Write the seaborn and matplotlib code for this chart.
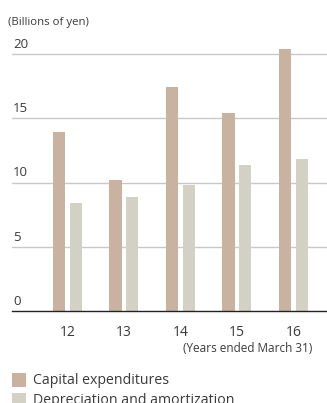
import matplotlib
matplotlib.use("Agg")
import matplotlib.pyplot as plt
import matplotlib.transforms as mtransforms
from matplotlib.patches import Rectangle
import pandas as pd
import seaborn as sns

years = ["12", "13", "14", "15", "16"]
capex = [13.9, 10.2, 17.4, 15.4, 20.4]
depreciation = [8.4, 8.9, 9.8, 11.4, 11.8]
series_names = ["Capital expenditures", "Depreciation and amortization"]
y_ticks = [0, 5, 10, 15, 20]

colors = ["#C9B3A0", "#D3D1C3"]
text_color = "#3a3a3a"

df = pd.DataFrame({
    "year": years * 2,
    "value": capex + depreciation,
    "series": [series_names[0]] * len(years) + [series_names[1]] * len(years),
})

sns.set_theme(style="white")
plt.rcParams["font.family"] = ["Open Sans", "DejaVu Sans"]

W, H = 327, 403
fig = plt.figure(figsize=(W / 100, H / 100), dpi=100)
ax = fig.add_axes([12 / W, (H - 311) / H, (W - 12) / W, 270 / H])

sns.barplot(data=df, x="year", y="value", hue="series", order=years,
            hue_order=series_names, palette=colors, width=0.6, gap=0.29,
            saturation=1, legend=False, ax=ax, edgecolor="none", linewidth=0)

ax.set_ylim(0, 270 / 12.85)
ax.set_xlim(-0.982, 4.593)

for v in y_ticks[1:]:
    ax.axhline(v, color="#c8c8c8", lw=1.0, zorder=0)
ax.set_yticks([])
for s in ["top", "right", "left"]:
    ax.spines[s].set_visible(False)
ax.spines["bottom"].set_color("#222222")
ax.spines["bottom"].set_linewidth(1.0)

# y labels sit just above their gridlines
trans = mtransforms.blended_transform_factory(ax.transAxes, ax.transData)
for v in y_ticks:
    t = ax.text(1 / 315, v, str(v), transform=trans, ha="left", va="bottom",
                fontsize=9.5, color=text_color)
    t.set_transform(trans + mtransforms.ScaledTranslation(0, 3 / 100, fig.dpi_scale_trans))

ax.set_xlabel("")
ax.set_ylabel("")
ax.tick_params(axis="x", length=0, pad=10, labelsize=10, labelcolor=text_color)

fig.text(8 / W, 1 - 22 / H, "(Billions of yen)", ha="left", va="center",
         fontsize=8.2, color=text_color)
fig.text(312 / W, 1 - 348 / H, "(Years ended March 31)", ha="right", va="center",
         fontsize=8.5, color=text_color)

# legend
for i, (name, c) in enumerate(zip(series_names, colors)):
    yc = 380 + i * 20
    fig.patches.append(Rectangle((12 / W, 1 - (yc + 7) / H), 14 / W, 14 / H,
                                 transform=fig.transFigure, color=c, lw=0))
    fig.text(33 / W, 1 - yc / H, name, ha="left", va="center",
             fontsize=10.2, color=text_color)

fig.savefig("out.png", dpi=100)
